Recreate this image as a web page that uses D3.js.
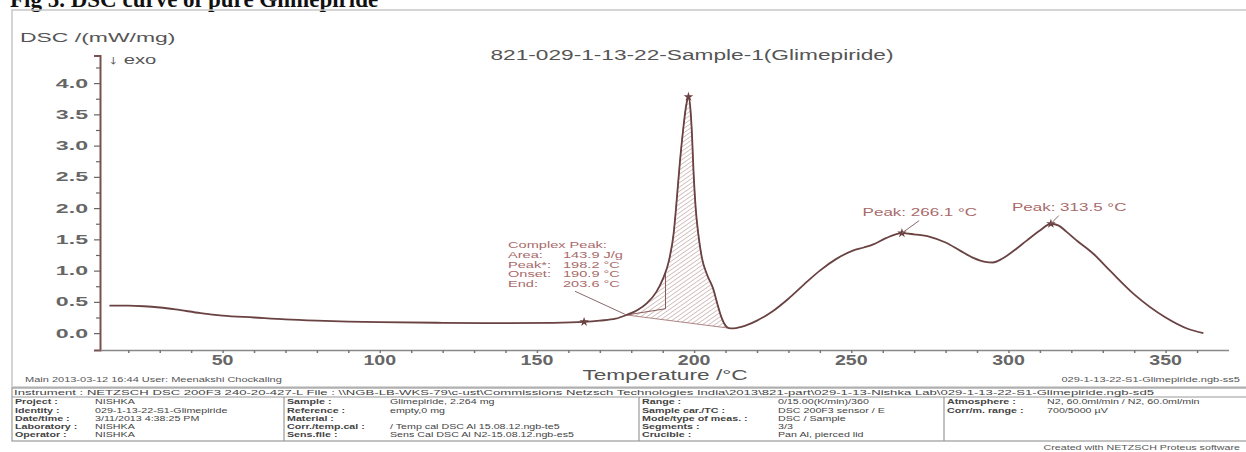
<!DOCTYPE html>
<html>
<head>
<meta charset="utf-8">
<script src="https://cdn.jsdelivr.net/npm/d3@7"></script>
<style>
  body { margin: 0; background: #fff; }
  svg { display: block; }
  text { font-family: 'Liberation Sans', Arial, sans-serif; }
</style>
</head>
<body>
<svg width="1246" height="452"></svg>
<script>
// DSC trace
const temps = [14, 20, 25, 30, 35, 43, 50, 60, 70, 80, 90, 100, 120, 140, 155, 165, 170, 175, 178.5,
  182, 185, 188, 190, 192, 193.5, 194.5, 195.5, 196.5, 197.5, 198.2, 198.8, 199.3, 199.8, 200.5,
  201.3, 202.5, 204, 206, 207.5, 208.5, 210, 211, 212.5, 215, 220, 225, 230, 235, 240, 245, 250.5,
  254, 257, 261, 266.1, 270, 275, 280, 284.6, 289, 292.6, 295, 298, 302, 305.8, 310, 313.5, 316,
  318.5, 322, 327, 332.3, 340, 350, 357, 362];
const dsc = [0.44, 0.44, 0.43, 0.41, 0.38, 0.32, 0.28, 0.25, 0.22, 0.2, 0.185, 0.175, 0.165, 0.16,
  0.165, 0.18, 0.2, 0.23, 0.29, 0.37, 0.48, 0.66, 0.86, 1.16, 1.6, 2.15, 2.75, 3.25, 3.65, 3.78,
  3.6, 3.2, 2.6, 2.0, 1.6, 1.2, 0.95, 0.72, 0.45, 0.28, 0.12, 0.08, 0.075, 0.1, 0.2, 0.35, 0.55,
  0.78, 1.0, 1.18, 1.32, 1.37, 1.42, 1.52, 1.6, 1.58, 1.54, 1.45, 1.32, 1.2, 1.14, 1.13, 1.19, 1.33,
  1.48, 1.64, 1.75, 1.72, 1.62, 1.47, 1.27, 1.0, 0.62, 0.25, 0.07, 0.0];

const yTicks = [0, 0.5, 1, 1.5, 2, 2.5, 3, 3.5, 4];
const xTicks = [50, 100, 150, 200, 250, 300, 350];

// complex peak evaluation
const complexPeak = [
  ['Complex Peak:', ''],
  ['Area:', '143.9 J/g'],
  ['Peak*:', '198.2 °C'],
  ['Onset:', '190.9 °C'],
  ['End:', '203.6 °C'],
];
const areaFrom = 178.5, areaTo = 211, onset = 190.9;
const peakMarks = [[198.2, 3.78], [165, 0.18], [266.1, 1.6], [313.5, 1.75]];
const peakLabels = [
  {t: 266.1, v: 1.6, text: 'Peak: 266.1 °C', lt: 253.6, lv: 1.88, dt: 5.5},
  {t: 313.5, v: 1.75, text: 'Peak: 313.5 °C', lt: 301.1, lv: 1.96, dt: 2.5},
];

const infoHeader = 'Instrument :  NETZSCH DSC 200F3 240-20-427-L   File :  \\\\NGB-LB-WKS-79\\c-ust\\Commissions Netzsch Technologies India\\2013\\821-part\\029-1-13-Nishka Lab\\029-1-13-22-S1-Glimepiride.ngb-sd5';
const infoCols = [
  [['Project :', 'NISHKA'], ['Identity :', '029-1-13-22-S1-Glimepiride'], ['Date/time :', '3/11/2013 4:38:25 PM'],
   ['Laboratory :', 'NISHKA'], ['Operator :', 'NISHKA']],
  [['Sample :', 'Glimepiride, 2.264 mg'], ['Reference :', 'empty,0 mg'], ['Material :', ''],
   ['Corr./temp.cal :', '/ Temp cal DSC Al 15.08.12.ngb-te5'], ['Sens.file :', 'Sens Cal DSC Al N2-15.08.12.ngb-es5']],
  [['Range :', '0/15.00(K/min)/360'], ['Sample car./TC :', 'DSC 200F3 sensor / E'], ['Mode/type of meas. :', 'DSC / Sample'],
   ['Segments :', '3/3'], ['Crucible :', 'Pan Al, pierced lid']],
  [['Atmosphere :', 'N2, 60.0ml/min / N2, 60.0ml/min'], ['Corr/m. range :', '700/5000 µV']],
];

const svg = d3.select('svg');
const curveColor = '#6a4242';
const labelColor = '#a86a6a';
const SX = 1.62; // the scan is stretched sideways

const x = d3.scaleLinear().domain([11, 370]).range([100, 1228.5]);
const y = d3.scaleLinear().domain([-0.27, 4.44]).range([350, 55.6]);

// stretched text helper
function label(parent, px, py, str, size, opts = {}) {
  const sx = opts.sx || SX;
  return parent.append('text')
    .attr('transform', 'translate(' + px + ',' + py + ') scale(' + sx + ',1)')
    .attr('text-anchor', opts.anchor || 'start')
    .attr('font-size', size)
    .attr('font-weight', opts.bold ? 'bold' : null)
    .attr('fill', opts.fill || '#555')
    .text(str);
}

// page title (cut off at the top in the scan)
svg.append('text')
  .attr('x', 10).attr('y', 7)
  .attr('font-weight', 'bold')
  .attr('font-size', 23)
  .attr('fill', '#111')
  .style('font-family', 'Liberation Serif, serif')
  .text('Fig 5. DSC curve of pure Glimepiride');

svg.append('rect')
  .attr('x', 12).attr('y', 10)
  .attr('width', 1240).attr('height', 377)
  .attr('fill', 'none')
  .attr('stroke', '#c8c8c8')
  .attr('stroke-width', 1.5);

label(svg, 20, 42, 'DSC /(mW/mg)', 13.5, {sx: 1.7});
label(svg, 108, 64, '↓  exo', 12.5);
label(svg, 692, 60, '821-029-1-13-22-Sample-1(Glimepiride)', 14, {anchor: 'middle'});

// hatch pattern for the integrated area
const defs = svg.append('defs');
defs.append('pattern')
  .attr('id', 'hatch')
  .attr('patternUnits', 'userSpaceOnUse')
  .attr('width', 3.5).attr('height', 3.5)
  .attr('patternTransform', 'rotate(-35)')
  .append('line')
  .attr('x1', 0).attr('y1', 0).attr('x2', 3.5).attr('y2', 0)
  .attr('stroke', '#9a6a6a')
  .attr('stroke-width', 0.8);

const pts = temps.map((t, i) => [t, dsc[i]]);
const line = d3.line()
  .x(d => x(d[0]))
  .y(d => y(d[1]))
  .curve(d3.curveMonotoneX);

const vAt = t => {
  const i = d3.bisector(d => d[0]).left(pts, t);
  if (i <= 0) return pts[0][1];
  const a = pts[i - 1], b = pts[i];
  return a[1] + (b[1] - a[1]) * (t - a[0]) / (b[0] - a[0]);
};
const baseFrom = [areaFrom, vAt(areaFrom)], baseTo = [areaTo, vAt(areaTo)];
const areaPts = [baseFrom, ...pts.filter(d => d[0] > areaFrom && d[0] < areaTo), baseTo];
svg.append('path')
  .attr('d', line(areaPts) + 'Z')
  .attr('fill', 'url(#hatch)')
  .attr('stroke', '#9a6a6a')
  .attr('stroke-width', 0.8);

// onset construction
const onsetBase = 0.39;
svg.append('path')
  .attr('d', d3.line()([
    [x(areaFrom), y(baseFrom[1])], [x(onset), y(onsetBase)], [x(onset), y(vAt(onset))],
  ]))
  .attr('fill', 'none')
  .attr('stroke', '#8a5a5a')
  .attr('stroke-width', 1);

// axes
const ySX = 1.85;
const yAxis = svg.append('g')
  .attr('transform', 'translate(' + x.range()[0] + ',0)')
  .call(d3.axisLeft(y).tickValues(yTicks).tickFormat(d3.format('.1f')).tickSize(6).tickPadding(5));
svg.append('g')
  .attr('transform', 'translate(' + x.range()[0] + ',0)')
  .call(d3.axisLeft(y).tickValues(d3.range(0.25, 4.3, 0.5)).tickFormat('').tickSize(4))
  .call(g => g.select('.domain').remove());
yAxis.select('.domain')
  .attr('stroke', '#7a5050')
  .attr('stroke-width', 2);
svg.selectAll('.tick line').attr('stroke', '#666').attr('stroke-width', 1.2);
yAxis.selectAll('text')
  .attr('x', -12 / ySX)
  .attr('transform', 'scale(' + ySX + ',1)')
  .attr('font-size', 12.5)
  .attr('font-weight', 'bold')
  .attr('fill', '#666');

const xAxis = svg.append('g')
  .attr('transform', 'translate(0,' + y.range()[0] + ')')
  .call(d3.axisBottom(x).tickValues(d3.range(20, 370, 10)).tickFormat('').tickSize(3).tickSizeOuter(0));
xAxis.select('.domain').attr('stroke', '#888').attr('stroke-width', 1.5);
xAxis.selectAll('.tick line').attr('stroke', '#777').attr('stroke-width', 1.5);
xTicks.forEach(t => {
  label(svg, x(t), y.range()[0] + 14.5, t, 14, {anchor: 'middle', bold: true, fill: '#666', sx: 1.4});
});

label(svg, 665, 380, 'Temperature /°C', 14, {anchor: 'middle', fill: '#555'});

// DSC curve
svg.append('path')
  .attr('d', line(pts))
  .attr('fill', 'none')
  .attr('stroke', curveColor)
  .attr('stroke-width', 1.8);

svg.selectAll('.pk')
  .data(peakMarks)
  .join('path')
  .attr('class', 'pk')
  .attr('transform', d => 'translate(' + x(d[0]) + ',' + y(d[1]) + ')')
  .attr('d', d3.symbol(d3.symbolStar, 28))
  .attr('fill', curveColor);

// complex peak label
const cpX = x(140.8), cpY = y(1.36);
complexPeak.forEach((d, i) => {
  label(svg, cpX, cpY + i * 9.7, d[0], 9, {fill: labelColor});
  label(svg, cpX + 55, cpY + i * 9.7, d[1], 9, {fill: labelColor});
});
svg.append('line')
  .attr('x1', x(162.1)).attr('y1', y(0.67))
  .attr('x2', x(areaFrom)).attr('y2', y(baseFrom[1]))
  .attr('stroke', '#8a6a6a')
  .attr('stroke-width', 1);

// peak labels
peakLabels.forEach(p => {
  label(svg, x(p.lt), y(p.lv), p.text, 10.5, {fill: labelColor});
  svg.append('line')
    .attr('x1', x(p.t)).attr('y1', y(p.v))
    .attr('x2', x(p.t + p.dt)).attr('y2', y(p.lv - 0.08))
    .attr('stroke', '#8a6a6a')
    .attr('stroke-width', 1);
});

// footer
label(svg, 25, 382, 'Main   2013-03-12 16:44    User: Meenakshi Chockaling', 6.8);
label(svg, 1240, 382, '029-1-13-22-S1-Glimepiride.ngb-ss5', 6.8, {anchor: 'end'});

const tblTop = 388, rowH = 8.2, hdrH = 9;
const tblBottom = tblTop + hdrH + rowH * 5 + 3;
svg.append('rect')
  .attr('x', 12).attr('y', tblTop)
  .attr('width', 1240).attr('height', tblBottom - tblTop)
  .attr('fill', 'none')
  .attr('stroke', '#999')
  .attr('stroke-width', 1.2);
svg.append('line')
  .attr('x1', 12).attr('x2', 1246)
  .attr('y1', tblTop + hdrH).attr('y2', tblTop + hdrH)
  .attr('stroke', '#999')
  .attr('stroke-width', 1.2);
svg.append('text')
  .attr('x', 14).attr('y', tblTop + 7)
  .attr('font-size', 7)
  .attr('fill', '#444')
  .attr('textLength', 1140)
  .attr('lengthAdjust', 'spacingAndGlyphs')
  .text(infoHeader);

const colX = [12, 284, 639, 944];
const valX = [95, 390, 778, 1047];
colX.slice(1).forEach(cx => {
  svg.append('line')
    .attr('x1', cx).attr('x2', cx)
    .attr('y1', tblTop + hdrH).attr('y2', tblBottom)
    .attr('stroke', '#999')
    .attr('stroke-width', 1.2);
});
infoCols.forEach((col, ci) => {
  col.forEach((row, ri) => {
    const ty = tblTop + hdrH + 7.3 + ri * rowH;
    label(svg, colX[ci] + 3, ty, row[0], 6.6, {bold: true, fill: '#444'});
    label(svg, valX[ci], ty, row[1], 6.6, {fill: '#444'});
  });
});
label(svg, 1240, 450, 'Created with NETZSCH Proteus software', 6.6, {anchor: 'end'});
</script>
</body>
</html>
